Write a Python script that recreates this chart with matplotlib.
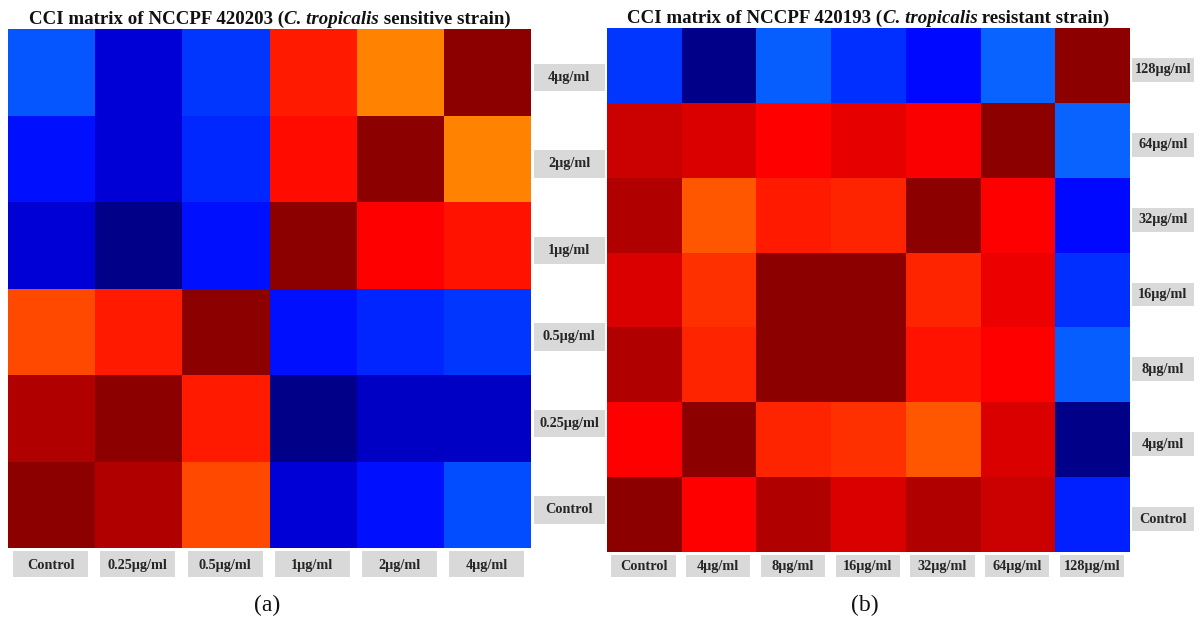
import numpy as np
import matplotlib
matplotlib.use("Agg")
import matplotlib.pyplot as plt
from matplotlib.colors import LinearSegmentedColormap
from matplotlib.patches import Rectangle
from matplotlib.offsetbox import TextArea, HPacker, AnchoredOffsetbox

# ---- data ----
cols_a = ["Control", "0.25µg/ml", "0.5µg/ml", "1µg/ml", "2µg/ml", "4µg/ml"]
rows_a = ["4µg/ml", "2µg/ml", "1µg/ml", "0.5µg/ml", "0.25µg/ml", "Control"]
cci_a = [
    [-0.10, -0.80, -0.30, 0.45, 0.10, 1.00],
    [-0.55, -0.80, -0.40, 0.50, 1.00, 0.10],
    [-0.80, -1.00, -0.55, 1.00, 0.55, 0.48],
    [0.30, 0.45, 1.00, -0.55, -0.42, -0.30],
    [0.85, 1.00, 0.45, -1.00, -0.85, -0.85],
    [1.00, 0.85, 0.30, -0.80, -0.55, -0.15],
]

cols_b = ["Control", "4µg/ml", "8µg/ml", "16µg/ml", "32µg/ml", "64µg/ml", "128µg/ml"]
rows_b = ["128µg/ml", "64µg/ml", "32µg/ml", "16µg/ml", "8µg/ml", "4µg/ml", "Control"]
cci_b = [
    [-0.30, -1.00, -0.05, -0.35, -0.60, -0.02, 1.00],
    [0.75, 0.70, 0.55, 0.65, 0.57, 1.00, -0.02],
    [0.85, 0.25, 0.45, 0.42, 1.00, 0.55, -0.60],
    [0.70, 0.38, 1.00, 1.00, 0.42, 0.63, -0.35],
    [0.85, 0.42, 1.00, 1.00, 0.48, 0.55, -0.05],
    [0.55, 1.00, 0.42, 0.38, 0.25, 0.70, -1.00],
    [1.00, 0.55, 0.85, 0.70, 0.85, 0.75, -0.45],
]

# blue (negative) -> orange/red (positive)
cmap = LinearSegmentedColormap.from_list("cci", [
    (0.0, "#000088"), (0.1, "#0000d8"), (0.2, "#0008ff"), (0.3, "#0028ff"),
    (0.4, "#0045ff"), (0.5, "#0a66ff"), (0.501, "#ff8200"), (0.55, "#ff8200"),
    (0.65, "#ff4a00"), (0.725, "#ff1a00"), (0.775, "#ff0000"), (0.85, "#dc0000"),
    (0.925, "#b00000"), (1.0, "#8c0000"),
])

SERIF = "Liberation Serif"
BOX = "#d9d9d9"
TXT = "#262626"

W, H = 1202, 629
fig = plt.figure(figsize=(W / 100, H / 100), dpi=100)


def px_axes(x0, y0, x1, y1):
    return fig.add_axes([x0 / W, 1 - y1 / H, (x1 - x0) / W, (y1 - y0) / H])


def draw(ax, data, rows, cols, label_fs=10.3):
    data = np.array(data)
    n = len(rows)
    ax.pcolormesh(np.arange(len(cols) + 1), np.arange(n + 1), data,
                  cmap=cmap, vmin=-1, vmax=1)
    ax.set_xlim(0, len(cols))
    ax.set_ylim(n, 0)
    ax.set_axis_off()
    # column labels in grey boxes under the matrix
    for j, c in enumerate(cols):
        ax.add_patch(Rectangle((j + 0.06, n + 0.04), 0.86, 0.30, color=BOX,
                               clip_on=False, lw=0))
        ax.text(j + 0.49, n + 0.20, c, ha="center", va="center",
                fontsize=label_fs, fontweight="bold", family=SERIF,
                color=TXT, clip_on=False)
    # row labels in grey boxes on the right
    for i, r in enumerate(rows):
        ax.add_patch(Rectangle((n + 0.03, i + 0.40), 0.82, 0.32, color=BOX,
                               clip_on=False, lw=0))
        ax.text(n + 0.44, i + 0.56, r, ha="center", va="center",
                fontsize=label_fs, fontweight="bold", family=SERIF,
                color=TXT, clip_on=False)


def title(ax, num, kind):
    props = dict(family=SERIF, fontweight="bold", fontsize=13.6, color="#111")
    parts = [
        TextArea(f"CCI matrix of NCCPF {num} (", textprops=props),
        TextArea("C. tropicalis", textprops=dict(props, style="italic")),
        TextArea(f" {kind} strain)", textprops=props),
    ]
    box = HPacker(children=parts, pad=0, sep=0, align="baseline")
    anchored = AnchoredOffsetbox(loc="lower center", child=box, frameon=False,
                                 bbox_to_anchor=(0.5, 1.0), bbox_transform=ax.transAxes,
                                 borderpad=0.1, pad=0)
    ax.add_artist(anchored)


ax_a = px_axes(8, 29, 531, 548)
draw(ax_a, cci_a, rows_a, cols_a)
title(ax_a, "420203", "sensitive")

ax_b = px_axes(607, 28, 1130, 552)
draw(ax_b, cci_b, rows_b, cols_b)
title(ax_b, "420193", "resistant")

fig.text(267 / W, 1 - 605 / H, "(a)", ha="center", va="center",
         family=SERIF, fontsize=17, color="#111")
fig.text(865 / W, 1 - 605 / H, "(b)", ha="center", va="center",
         family=SERIF, fontsize=17, color="#111")

fig.savefig("out.png", dpi=100, facecolor="white")
